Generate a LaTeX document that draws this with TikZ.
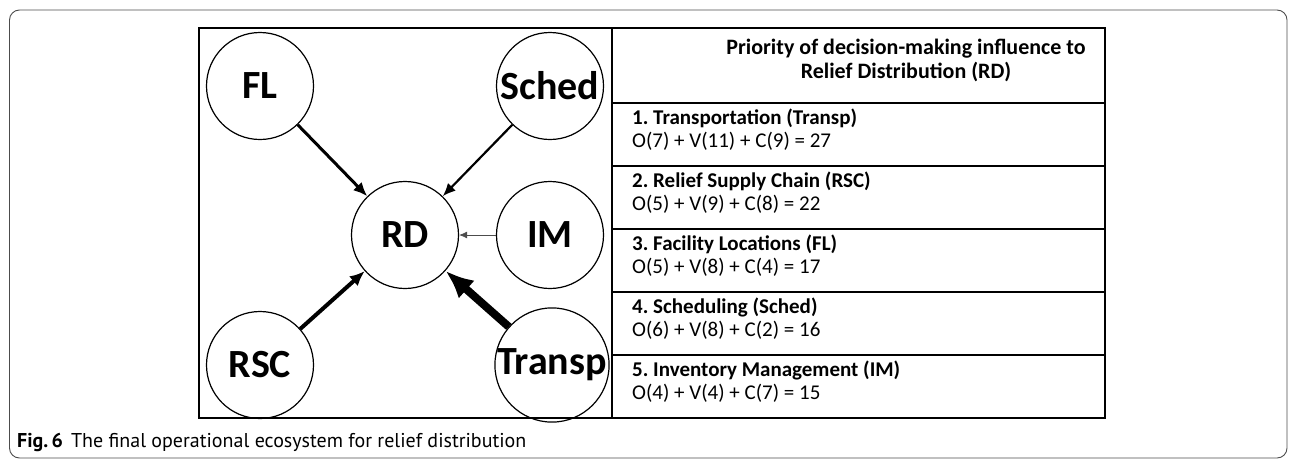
\documentclass[tikz,border=0pt]{standalone}
\usepackage{fontspec}
\setmainfont{Carlito}
\newfontfamily\capfont{PT Sans}
\usetikzlibrary{arrows.meta,positioning}
\frenchspacing

\begin{document}
\begin{tikzpicture}[
  x=1pt,
  y=-1pt,
  line/.style={draw=black,line width=1.4pt},
  factor/.style={draw=black,line width=1.2pt,circle,minimum size=107pt,inner sep=0pt,
    font=\fontsize{40}{42}\selectfont\bfseries},
  rowbox/.style={line,rectangle,anchor=north west,minimum width=493pt,minimum height=63pt,
    inner sep=0pt,outer sep=0pt},
  rowtext/.style={anchor=north west,align=left,inner sep=0pt,font=\fontsize{21}{23}\selectfont},
  link/.style={draw=black,line width=#1},
  tip/.style 2 args={-{Latex[length=#1,width=#2]}}
]
\useasboundingbox (0,0) rectangle (1296,461);

% Outer frame
\draw[gray!60!black,line width=0.9pt,rounded corners=10pt] (9.5,10) rectangle (1287,458);

% Diagram panel
\node[line,rectangle,anchor=north west,minimum width=413pt,minimum height=390pt,inner sep=0pt,outer sep=0pt]
  (panel) at (199,28) {};

\node[factor] (fl) at (260,86) {FL};
\node[factor] (sched) at (550,86) {Sched};
\node[factor] (rd) at (405,235) {RD};
\node[factor] (im) at (550,235) {IM};
\node[factor] (rsc) at (260,365) {RSC};
\node[factor] (transp) at (552,365) {Transp};

% Influence arrows, thickness follows the priority
\draw[link=3pt,tip={14pt}{12pt}] (fl) -- (rd);
\draw[link=2.2pt,tip={13pt}{11pt}] (sched) -- (rd);
\draw[link=0.7pt,gray!60!black,tip={8pt}{7pt}] (im) -- (rd);
\draw[link=4pt,tip={15pt}{13pt}] (rsc) -- (rd);
\draw[link=8pt,tip={28pt}{24pt}] (transp) -- (rd);

% Priority table
\node[rowbox,minimum height=75pt] (head) at (612,28) {};
\node[font=\fontsize{22}{24}\selectfont\bfseries,align=center] (headtext) at (906,60)
  {Priority of decision-making influence to\\Relief Distribution (RD)};

\node[rowbox,below=0pt of head.south west,anchor=north west] (row1) {};
\node[rowbox,below=0pt of row1.south west,anchor=north west] (row2) {};
\node[rowbox,below=0pt of row2.south west,anchor=north west] (row3) {};
\node[rowbox,below=0pt of row3.south west,anchor=north west] (row4) {};
\node[rowbox,below=0pt of row4.south west,anchor=north west] (row5) {};

\node[rowtext,below right=6pt and 20pt of row1.north west] (text1)
  {\textbf{1. Transportation (Transp)}\\O(7) + V(11) + C(9) = 27};
\node[rowtext,below right=6pt and 20pt of row2.north west] (text2)
  {\textbf{2. Relief Supply Chain (RSC)}\\O(5) + V(9) + C(8) = 22};
\node[rowtext,below right=6pt and 20pt of row3.north west] (text3)
  {\textbf{3. Facility Locations (FL)}\\O(5) + V(8) + C(4) = 17};
\node[rowtext,below right=6pt and 20pt of row4.north west] (text4)
  {\textbf{4. Scheduling (Sched)}\\O(6) + V(8) + C(2) = 16};
\node[rowtext,below right=6pt and 20pt of row5.north west] (text5)
  {\textbf{5. Inventory Management (IM)}\\O(4) + V(4) + C(7) = 15};

% Caption
\node[anchor=west,inner sep=0pt,font=\capfont\fontsize{20}{22}\selectfont] (caption) at (17,442)
  {\textbf{Fig.\,6}\hspace{8pt}The final operational ecosystem for relief distribution};

\end{tikzpicture}
\end{document}
